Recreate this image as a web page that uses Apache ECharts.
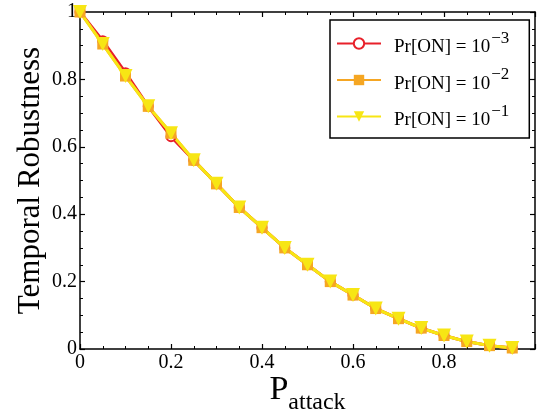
<!DOCTYPE html>
<html>
<head>
<meta charset="utf-8">
<script src="https://cdn.jsdelivr.net/npm/echarts@6/dist/echarts.min.js"></script>
<style>
  html, body { margin: 0; padding: 0; background: #fff; }
  #main { width: 537px; height: 416px; }
</style>
</head>
<body>
<div id="main"></div>
<script>
  // P_attack values (x) and temporal robustness per Pr[ON]
  var pAttack = [0, 0.05, 0.1, 0.15, 0.2, 0.25, 0.3, 0.35, 0.4, 0.45, 0.5, 0.55, 0.6, 0.65, 0.7, 0.75, 0.8, 0.85, 0.9, 0.95];
  var robust3 = [1, 0.915, 0.82, 0.72, 0.63, 0.56, 0.49, 0.42, 0.36, 0.30, 0.25, 0.20, 0.16, 0.12, 0.09, 0.062, 0.04, 0.022, 0.01, 0.003];
  var robust2 = [1, 0.905, 0.81, 0.72, 0.64, 0.56, 0.49, 0.42, 0.36, 0.30, 0.25, 0.20, 0.16, 0.12, 0.09, 0.062, 0.04, 0.022, 0.01, 0.003];
  var robust1 = [1, 0.905, 0.81, 0.72, 0.64, 0.56, 0.49, 0.42, 0.36, 0.30, 0.25, 0.20, 0.16, 0.12, 0.09, 0.062, 0.04, 0.022, 0.01, 0.003];
  var seriesNames = ['Pr[ON] = 10^-3', 'Pr[ON] = 10^-2', 'Pr[ON] = 10^-1'];
  var exponents = ['\u22123', '\u22122', '\u22121'];

  function pairs(ys) {
    return pAttack.map(function (x, i) { return [x, ys[i]]; });
  }

  var font = '"Liberation Serif", "Times New Roman", serif';
  var chart = echarts.init(document.getElementById('main'));

  // every axis gets its own copy, ticks point into the plot
  function axis(extra) {
    var a = {
      type: 'value',
      min: 0,
      max: 1,
      interval: 0.2,
      axisLine: { show: true, onZero: false, lineStyle: { color: '#000', width: 1.5 } },
      axisTick: { show: true, inside: true, length: 5, lineStyle: { color: '#000', width: 1.2 } },
      minorTick: { show: true, splitNumber: 4, length: 3, lineStyle: { color: '#000', width: 1 } },
      splitLine: { show: false }
    };
    for (var k in extra) a[k] = extra[k];
    return a;
  }

  chart.setOption({
    animation: false,
    grid: { left: 80, right: 2, top: 12, bottom: 67, containLabel: false, outerBoundsMode: 'none' },
    xAxis: [
      axis({
        position: 'bottom',
        name: '{p|P}{s|attack}',
        nameLocation: 'middle',
        nameMoveOverlap: false,
        nameGap: 16,
        nameTextStyle: {
          rich: {
            p: { fontFamily: font, fontSize: 34, color: '#000' },
            s: { fontFamily: font, fontSize: 24, color: '#000', padding: [26, 0, 0, 0] }
          }
        },
        axisLabel: {
          fontFamily: font, fontSize: 20, color: '#000', margin: 4,
          formatter: function (v) { return v >= 1 ? '' : String(+v.toFixed(1)); }
        }
      }),
      axis({
        position: 'top',
        axisLabel: { show: false }
      })
    ],
    yAxis: [
      axis({
        position: 'left',
        name: 'Temporal Robustness',
        nameLocation: 'middle',
        nameMoveOverlap: false,
        nameGap: 34,
        nameTextStyle: { fontFamily: font, fontSize: 31, color: '#000' },
        axisLabel: {
          fontFamily: font, fontSize: 20, color: '#000', margin: 3,
          formatter: function (v) { return String(+v.toFixed(1)); }
        }
      }),
      axis({
        position: 'right',
        axisLabel: { show: false }
      })
    ],
    legend: {
      left: 330,
      top: 20,
      orient: 'vertical',
      padding: [10, 20, 8, 6],
      itemGap: 9.5,
      itemWidth: 44,
      itemHeight: 13,
      backgroundColor: '#fff',
      borderColor: '#000',
      borderWidth: 1.5,
      borderRadius: 0,
      formatter: function (name) {
        var i = seriesNames.indexOf(name);
        return '{a|Pr[ON] = 10}{b|' + exponents[i] + '}';
      },
      textStyle: {
        rich: {
          a: { fontFamily: font, fontSize: 19, color: '#000', padding: [8, 0, 0, 8] },
          b: { fontFamily: font, fontSize: 17, color: '#000', padding: [0, 0, 10, 1] }
        }
      }
    },
    series: [
      {
        name: seriesNames[0], type: 'line', data: pairs(robust3),
        xAxisIndex: 0, yAxisIndex: 0,
        symbol: 'emptyCircle', symbolSize: 9,
        lineStyle: { color: '#e8202a', width: 3 },
        itemStyle: { color: '#e8202a', borderWidth: 2 }
      },
      {
        name: seriesNames[1], type: 'line', data: pairs(robust2),
        xAxisIndex: 0, yAxisIndex: 0,
        symbol: 'rect', symbolSize: 11,
        lineStyle: { color: '#f5a623', width: 3 },
        itemStyle: { color: '#f5a623' }
      },
      {
        name: seriesNames[2], type: 'line', data: pairs(robust1),
        xAxisIndex: 0, yAxisIndex: 0,
        symbol: 'triangle', symbolRotate: 180, symbolSize: 14,
        lineStyle: { color: '#f7e614', width: 3 },
        itemStyle: { color: '#f7e614' }
      }
    ]
  });
</script>
</body>
</html>
